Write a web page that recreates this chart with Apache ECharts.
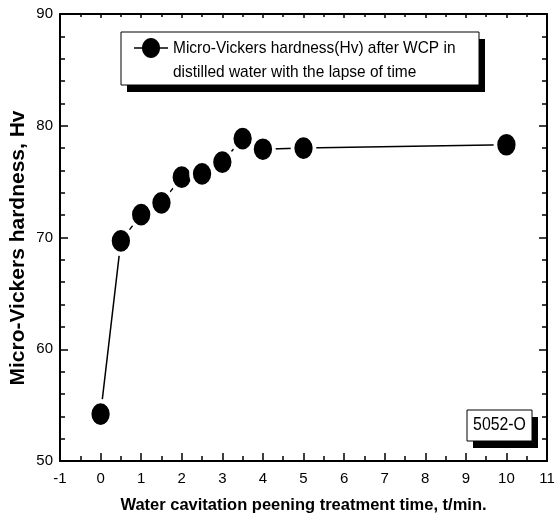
<!DOCTYPE html>
<html>
<head>
<meta charset="utf-8">
<script src="https://cdn.jsdelivr.net/npm/echarts@6/dist/echarts.min.js"></script>
<style>
  html, body { margin: 0; padding: 0; background: #fff; }
  #chart { width: 555px; height: 520px; }
</style>
</head>
<body>
<div id="chart"></div>
<script>
// treatment time (min) and measured hardness (Hv)
const times = [0, 0.5, 1, 1.5, 2, 2.5, 3, 3.5, 4, 5, 10];
const hardness = [54.2, 69.7, 72.05, 73.1, 75.4, 75.7, 76.75, 78.85, 77.9, 78.0, 78.3];

const seriesName = 'Micro-Vickers hardness(Hv) after WCP in\ndistilled water with the lapse of time';
const sampleLabel = '5052-O';
const xTitle = 'Water cavitation peening treatment time, t/min.';
const yTitle = 'Micro-Vickers hardness, Hv';

const font = "'Liberation Sans', Arial, sans-serif";

const chart = echarts.init(document.getElementById('chart'));

// shared look for the box axes
function boxAxis(extra) {
  return Object.assign({
    axisLine: { show: true, onZero: false, lineStyle: { color: '#000', width: 2 } },
    axisTick: { show: true, inside: true, length: 8, lineStyle: { color: '#000', width: 1.5 } },
    minorTick: { show: true, length: 5, lineStyle: { color: '#000', width: 1.5 } },
    splitLine: { show: false },
    axisLabel: { color: '#000', fontSize: 15, fontFamily: font }
  }, extra);
}

const option = {
  animation: false,
  backgroundColor: '#fff',
  grid: { left: 60, right: 8, top: 14, bottom: 59, outerBoundsMode: 'none', containLabel: false },
  xAxis: [
    boxAxis({
      type: 'value', min: -1, max: 11, interval: 1, position: 'bottom',
      minorTick: { show: true, splitNumber: 2, length: 5, lineStyle: { color: '#000', width: 1.5 } },
      axisLabel: { color: '#000', fontSize: 15, fontFamily: font, margin: 10 },
      name: xTitle, nameLocation: 'middle', nameGap: 36,
      nameTextStyle: { color: '#000', fontSize: 16.5, fontWeight: 'bold', fontFamily: font }
    }),
    boxAxis({
      type: 'value', min: -1, max: 11, interval: 1, position: 'top',
      axisTick: { show: true, inside: true, length: 4, lineStyle: { color: '#000', width: 1.5 } },
      minorTick: { show: true, splitNumber: 2, length: 3, lineStyle: { color: '#000', width: 1.5 } },
      axisLabel: { show: false }
    })
  ],
  yAxis: [
    boxAxis({
      type: 'value', min: 50, max: 90, interval: 10, position: 'left',
      minorTick: { show: true, splitNumber: 5, length: 5, lineStyle: { color: '#000', width: 1.5 } },
      axisLabel: { color: '#000', fontSize: 15, fontFamily: font, margin: 7 }
    }),
    boxAxis({
      type: 'value', min: 50, max: 90, interval: 10, position: 'right',
      minorTick: { show: true, splitNumber: 5, length: 5, lineStyle: { color: '#000', width: 1.5 } },
      axisLabel: { show: false }
    })
  ],
  series: [{
    name: seriesName,
    type: 'line',
    data: times.map((t, i) => [t, hardness[i]]),
    symbol: 'circle',
    symbolSize: [22, 26],
    lineStyle: { color: '#000', width: 1.5 },
    itemStyle: { color: '#000', borderColor: '#fff', borderWidth: 4 }
  }],
  graphic: [
    // y axis title
    {
      type: 'text', x: 18, y: 248, rotation: Math.PI / 2, z: 12,
      style: { text: yTitle, fill: '#000', fontSize: 21, fontWeight: 'bold', fontFamily: font, align: 'center', verticalAlign: 'middle' }
    },
    // legend box with a hard drop shadow
    { type: 'rect', shape: { x: 127, y: 39, width: 358, height: 53 }, style: { fill: '#000' }, z: 10 },
    { type: 'rect', shape: { x: 121, y: 32, width: 358, height: 53 }, style: { fill: '#fff', stroke: '#000', lineWidth: 1 }, z: 11 },
    { type: 'line', shape: { x1: 134, y1: 48, x2: 168, y2: 48 }, style: { stroke: '#000', lineWidth: 1.5 }, z: 12 },
    { type: 'ellipse', shape: { cx: 151, cy: 48, rx: 9, ry: 10 }, style: { fill: '#000' }, z: 12 },
    {
      type: 'text', x: 173, y: 36, z: 12, scaleX: 0.91,
      style: { text: seriesName, fill: '#000', fontSize: 17, fontFamily: font, lineHeight: 24 }
    },
    // sample label box
    { type: 'rect', shape: { x: 473, y: 417, width: 65, height: 31 }, style: { fill: '#000' }, z: 10 },
    { type: 'rect', shape: { x: 467, y: 410, width: 65, height: 31 }, style: { fill: '#fff', stroke: '#000', lineWidth: 1 }, z: 11 },
    {
      type: 'text', x: 499.5, y: 425.5, z: 12, scaleX: 0.88,
      style: { text: sampleLabel, fill: '#000', fontSize: 18, fontFamily: font, align: 'center', verticalAlign: 'middle' }
    }
  ]
};

chart.setOption(option);
</script>
</body>
</html>
